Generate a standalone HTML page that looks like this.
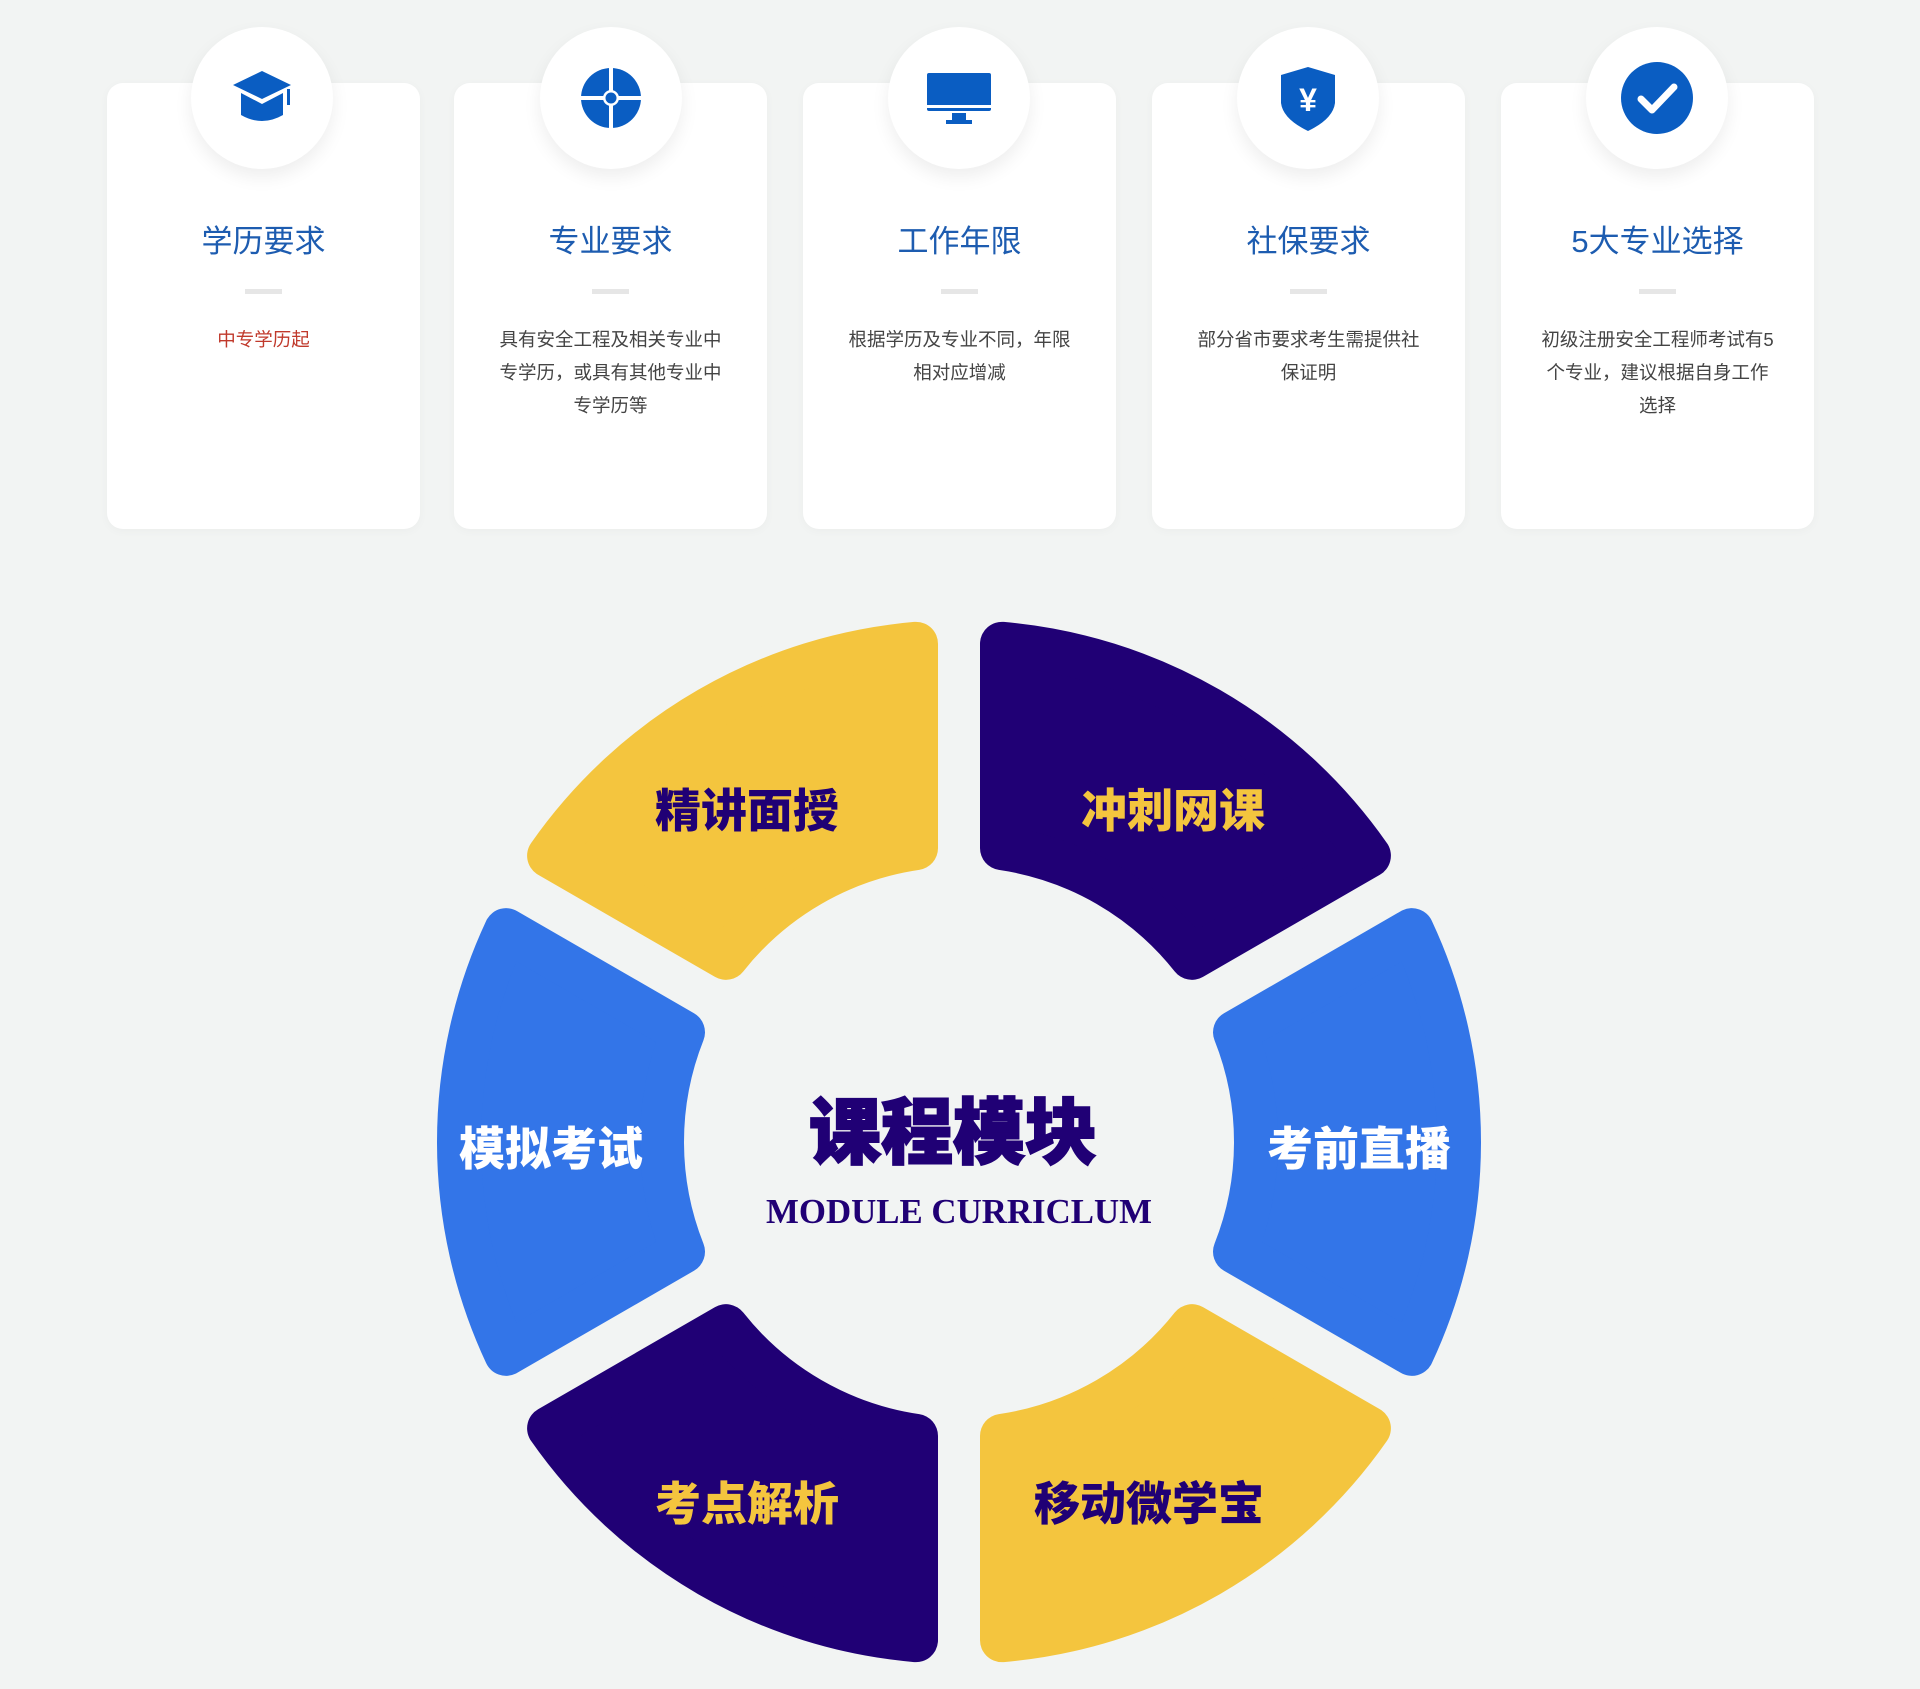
<!DOCTYPE html>
<html><head><meta charset="utf-8">
<style>
html,body{margin:0;padding:0;background:#f2f4f3;}
body{width:1920px;height:1689px;position:relative;overflow:hidden;font-family:"Liberation Sans","Noto Sans CJK SC",sans-serif;}
.card{position:absolute;top:83px;width:313px;height:446px;background:#fff;border-radius:16px;box-shadow:0 2px 10px rgba(0,0,0,0.03);}
.circ{position:absolute;top:27px;width:142px;height:142px;border-radius:50%;background:#fff;box-shadow:0 8px 18px rgba(0,0,0,0.07);display:flex;align-items:center;justify-content:center;}
.title{position:absolute;top:133px;width:100%;text-align:center;font-size:31px;color:#1d5cb0;}
.dash{position:absolute;top:206px;width:37px;height:5px;background:#e6e6e6;left:138px;}
.desc{position:absolute;top:240px;left:40px;width:233px;text-align:center;font-size:18.5px;line-height:33px;color:#444;}
</style></head><body>

<div class="card" style="left:107px"><div class="title">学历要求</div><div class="dash"></div><div class="desc" style="color:#c0392b">中专学历起</div></div>
<div class="card" style="left:454px"><div class="title">专业要求</div><div class="dash"></div><div class="desc">具有安全工程及相关专业中专学历，或具有其他专业中专学历等</div></div>
<div class="card" style="left:803px"><div class="title">工作年限</div><div class="dash"></div><div class="desc">根据学历及专业不同，年限相对应增减</div></div>
<div class="card" style="left:1152px"><div class="title">社保要求</div><div class="dash"></div><div class="desc">部分省市要求考生需提供社保证明</div></div>
<div class="card" style="left:1501px"><div class="title">5大专业选择</div><div class="dash"></div><div class="desc">初级注册安全工程师考试有5个专业，建议根据自身工作选择</div></div>

<div class="circ" style="left:191px"><svg width="70" height="70" viewBox="0 0 70 70"><path d="M35 8 L64 22 L35 36 L6 22 Z" fill="#0a5dc2"/><path d="M14 30 L35 41 L56 30 L56 52 Q35 64 14 52 Z" fill="#0a5dc2"/><rect x="60" y="26" width="3" height="16" fill="#0a5dc2"/></svg></div>
<div class="circ" style="left:540px"><svg width="70" height="70" viewBox="0 0 70 70"><circle cx="35" cy="35" r="30" fill="#0a5dc2"/><rect x="33" y="3" width="4" height="64" fill="#fff"/><rect x="3" y="33" width="64" height="4" fill="#fff"/><circle cx="35" cy="35" r="8" fill="#fff"/><circle cx="35" cy="35" r="5.5" fill="#0a5dc2"/></svg></div>
<div class="circ" style="left:888px"><svg width="70" height="70" viewBox="0 0 70 70"><rect x="3" y="10" width="64" height="38" rx="2" fill="#0a5dc2"/><rect x="3" y="42" width="64" height="3" fill="#fff"/><rect x="28" y="50" width="14" height="7" fill="#0a5dc2"/><rect x="22" y="57" width="26" height="4" fill="#0a5dc2"/></svg></div>
<div class="circ" style="left:1237px"><svg width="70" height="70" viewBox="0 0 70 70"><path d="M35 4 L62 12 L62 40 Q60 56 35 68 Q10 56 8 40 L8 12 Z" fill="#0a5dc2"/><text x="35" y="48" text-anchor="middle" font-family="Liberation Sans,sans-serif" font-weight="bold" font-size="32" fill="#fff">¥</text></svg></div>
<div class="circ" style="left:1586px"><svg width="76" height="76" viewBox="0 0 76 76"><circle cx="38" cy="38" r="36" fill="#0a5dc2"/><path d="M22 39 L33 50 L55 27" stroke="#fff" stroke-width="7" fill="none" stroke-linecap="round" stroke-linejoin="round"/></svg></div>

<svg id="ring" width="1920" height="1689" style="position:absolute;left:0;top:0" viewBox="0 0 1920 1689">
<g id="segs"></g>
<g font-family="Liberation Sans,'Noto Sans CJK SC',sans-serif" font-weight="900" font-size="46" text-anchor="middle">
<text x="747" y="827" fill="#200075">精讲面授</text>
<text x="1173" y="827" fill="#f4c53e">冲刺网课</text>
<text x="551" y="1165" fill="#fff">模拟考试</text>
<text x="1359" y="1165" fill="#fff">考前直播</text>
<text x="747" y="1520" fill="#f4c53e">考点解析</text>
<text x="1149" y="1520" fill="#200075">移动微学宝</text>
</g>
<text x="953" y="1158" text-anchor="middle" font-family="'Noto Sans CJK SC',sans-serif" font-weight="900" font-size="72" fill="#200075" stroke="#200075" stroke-width="2">课程模块</text>
<text x="959" y="1223" text-anchor="middle" font-family="Liberation Serif,serif" font-weight="bold" font-size="35" fill="#200075" textLength="386" lengthAdjust="spacingAndGlyphs">MODULE CURRICLUM</text>
</svg>

<script>
(function(){
var cx=959,cy=1142,Ro=522,Ri=275,g=42,r=22;
var segs=[[0,'#3375e8'],[60,'#200075'],[120,'#f4c53e'],[180,'#3375e8'],[240,'#200075'],[300,'#f4c53e']];
var ro=Ro-r, ri=Ri+r, h=g/2+r;
function pt(a,n,rho){
 var t=Math.sqrt(rho*rho-h*h), ar=a*Math.PI/180;
 var ux=Math.cos(ar),uy=Math.sin(ar);
 var nx=-uy*n,ny=ux*n;
 var x=t*ux+h*nx,y=t*uy+h*ny;
 return [cx+x,cy-y];
}
var out='';
segs.forEach(function(s){
 var a1=s[0]-30,a2=s[0]+30;
 var p1=pt(a1,1,ri),p2=pt(a1,1,ro),p3=pt(a2,-1,ro),p4=pt(a2,-1,ri);
 var d='M'+p1+' L'+p2+' A'+ro+' '+ro+' 0 0 0 '+p3+' L'+p4+' A'+ri+' '+ri+' 0 0 1 '+p1+' Z';
 out+='<path d="'+d+'" fill="'+s[1]+'" stroke="'+s[1]+'" stroke-width="'+(2*r)+'" stroke-linejoin="round"/>';
});
document.getElementById('segs').innerHTML=out;
})();
</script>
</body></html>
